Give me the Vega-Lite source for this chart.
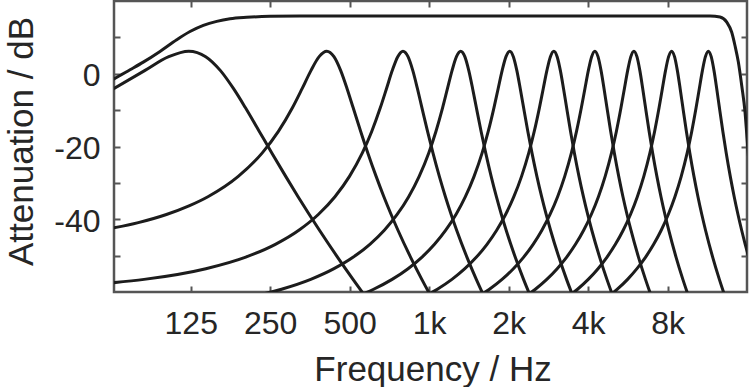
{
"$schema": "https://vega.github.io/schema/vega-lite/v6.json",
"width": 633, "height": 291,
"autosize": {"type": "none"},
"padding": {"left": 114, "top": 1, "right": 2, "bottom": 95},
"background": "white",
"config": {
 "view": {"stroke": "#555555", "strokeWidth": 2.5},
 "axis": {"domain": false, "grid": false, "tickColor": "#555555", "tickWidth": 2, "tickSize": -6,
  "labelFont": "Liberation Sans", "labelFontSize": 32, "labelColor": "#262626",
  "titleFont": "Liberation Sans", "titleFontSize": 35, "titleFontWeight": "normal", "titleColor": "#262626",
  "labelFlush": false, "labelOverlap": false}
},
"datasets": {
 "z": [{"f": 1000, "db": 0}],
 "c": [
{"s":"A","f":62,"db":-1.9},{"s":"A","f":64,"db":-1.4},{"s":"A","f":73.6,"db":1.1},{"s":"A","f":82.6,"db":3.2},{"s":"A","f":95.6,"db":6.15},{"s":"A","f":110.6,"db":9.35},{"s":"A","f":124.2,"db":11.6},{"s":"A","f":139.5,"db":13.3},{"s":"A","f":156.8,"db":14.4},{"s":"A","f":176.1,"db":15.1},{"s":"A","f":203.7,"db":15.5},{"s":"A","f":249.5,"db":15.8},{"s":"A","f":324,"db":15.9},{"s":"A","f":1000,"db":15.9},{"s":"A","f":9735,"db":15.9},{"s":"A","f":11590,"db":15.9},{"s":"A","f":12647,"db":15.6},{"s":"A","f":13408,"db":14.2},{"s":"A","f":14004,"db":11.4},{"s":"A","f":14413,"db":7.7},{"s":"A","f":14837,"db":3.2},{"s":"A","f":15283,"db":-3.3},{"s":"A","f":15730,"db":-10.6},{"s":"A","f":16006,"db":-17.7},{"s":"A","f":16300,"db":-25},
{"s":"B","f":62,"db":-4.63},{"s":"B","f":83.6,"db":0.86},{"s":"B","f":103.2,"db":4.7},{"s":"B","f":122.8,"db":6.2},{"s":"B","f":142.4,"db":4.7},{"s":"B","f":162,"db":0.86},{"s":"B","f":181.6,"db":-4.11},{"s":"B","f":201.2,"db":-9.3},{"s":"B","f":227.3,"db":-15.86},{"s":"B","f":253.5,"db":-21.76},{"s":"B","f":286.2,"db":-28.21},{"s":"B","f":318.8,"db":-33.8},{"s":"B","f":351.5,"db":-38.69},{"s":"B","f":384.2,"db":-43.02},{"s":"B","f":449.5,"db":-50.4},{"s":"B","f":514.8,"db":-56.53},{"s":"B","f":580.2,"db":-61.76},
{"s":"C","f":62,"db":-42.55},{"s":"C","f":79.1,"db":-40.92},{"s":"C","f":101.1,"db":-38.69},{"s":"C","f":123.1,"db":-36.32},{"s":"C","f":145.2,"db":-33.8},{"s":"C","f":189.2,"db":-28.21},{"s":"C","f":233.3,"db":-21.76},{"s":"C","f":268.5,"db":-15.86},{"s":"C","f":303.8,"db":-9.3},{"s":"C","f":330.2,"db":-4.11},{"s":"C","f":356.6,"db":0.86},{"s":"C","f":383.1,"db":4.7},{"s":"C","f":409.5,"db":6.2},{"s":"C","f":435.9,"db":4.7},{"s":"C","f":462.4,"db":0.86},{"s":"C","f":488.8,"db":-4.11},{"s":"C","f":515.2,"db":-9.3},{"s":"C","f":550.5,"db":-15.86},{"s":"C","f":585.7,"db":-21.76},{"s":"C","f":629.8,"db":-28.21},{"s":"C","f":673.8,"db":-33.8},{"s":"C","f":717.9,"db":-38.69},{"s":"C","f":761.9,"db":-43.02},{"s":"C","f":850.1,"db":-50.4},{"s":"C","f":938.2,"db":-56.53},{"s":"C","f":1026.3,"db":-61.76},
{"s":"D","f":62,"db":-57.52},{"s":"D","f":83.2,"db":-56.53},{"s":"D","f":142.6,"db":-53.59},{"s":"D","f":202,"db":-50.4},{"s":"D","f":261.5,"db":-46.89},{"s":"D","f":320.9,"db":-43.02},{"s":"D","f":380.3,"db":-38.69},{"s":"D","f":439.7,"db":-33.8},{"s":"D","f":499.1,"db":-28.21},{"s":"D","f":558.5,"db":-21.76},{"s":"D","f":606,"db":-15.86},{"s":"D","f":653.5,"db":-9.3},{"s":"D","f":689.2,"db":-4.11},{"s":"D","f":724.8,"db":0.86},{"s":"D","f":760.5,"db":4.7},{"s":"D","f":796.1,"db":6.2},{"s":"D","f":831.7,"db":4.7},{"s":"D","f":867.4,"db":0.86},{"s":"D","f":903,"db":-4.11},{"s":"D","f":938.7,"db":-9.3},{"s":"D","f":986.2,"db":-15.86},{"s":"D","f":1033.7,"db":-21.76},{"s":"D","f":1093.1,"db":-28.21},{"s":"D","f":1152.5,"db":-33.8},{"s":"D","f":1211.9,"db":-38.69},{"s":"D","f":1271.3,"db":-43.02},{"s":"D","f":1390.2,"db":-50.4},{"s":"D","f":1509,"db":-56.53},{"s":"D","f":1627.8,"db":-61.76},
{"s":"E","f":195.8,"db":-61.76},{"s":"E","f":275.9,"db":-59.24},{"s":"E","f":356,"db":-56.53},{"s":"E","f":436.1,"db":-53.59},{"s":"E","f":516.2,"db":-50.4},{"s":"E","f":596.3,"db":-46.89},{"s":"E","f":676.4,"db":-43.02},{"s":"E","f":756.5,"db":-38.69},{"s":"E","f":836.6,"db":-33.8},{"s":"E","f":916.7,"db":-28.21},{"s":"E","f":996.8,"db":-21.76},{"s":"E","f":1060.9,"db":-15.86},{"s":"E","f":1125,"db":-9.3},{"s":"E","f":1173,"db":-4.11},{"s":"E","f":1221.1,"db":0.86},{"s":"E","f":1269.1,"db":4.7},{"s":"E","f":1317.2,"db":6.2},{"s":"E","f":1365.3,"db":4.7},{"s":"E","f":1413.3,"db":0.86},{"s":"E","f":1461.4,"db":-4.11},{"s":"E","f":1509.4,"db":-9.3},{"s":"E","f":1573.5,"db":-15.86},{"s":"E","f":1637.6,"db":-21.76},{"s":"E","f":1717.7,"db":-28.21},{"s":"E","f":1797.8,"db":-33.8},{"s":"E","f":1877.9,"db":-38.69},{"s":"E","f":1958,"db":-43.02},{"s":"E","f":2118.2,"db":-50.4},{"s":"E","f":2278.4,"db":-56.53},{"s":"E","f":2438.6,"db":-61.76},
{"s":"F","f":507.9,"db":-61.76},{"s":"F","f":615.9,"db":-59.24},{"s":"F","f":723.9,"db":-56.53},{"s":"F","f":831.9,"db":-53.59},{"s":"F","f":939.8,"db":-50.4},{"s":"F","f":1047.8,"db":-46.89},{"s":"F","f":1155.8,"db":-43.02},{"s":"F","f":1263.8,"db":-38.69},{"s":"F","f":1371.8,"db":-33.8},{"s":"F","f":1479.8,"db":-28.21},{"s":"F","f":1587.8,"db":-21.76},{"s":"F","f":1674.2,"db":-15.86},{"s":"F","f":1760.6,"db":-9.3},{"s":"F","f":1825.4,"db":-4.11},{"s":"F","f":1890.2,"db":0.86},{"s":"F","f":1955,"db":4.7},{"s":"F","f":2019.8,"db":6.2},{"s":"F","f":2084.6,"db":4.7},{"s":"F","f":2149.4,"db":0.86},{"s":"F","f":2214.2,"db":-4.11},{"s":"F","f":2279,"db":-9.3},{"s":"F","f":2365.4,"db":-15.86},{"s":"F","f":2451.8,"db":-21.76},{"s":"F","f":2559.8,"db":-28.21},{"s":"F","f":2667.8,"db":-33.8},{"s":"F","f":2775.8,"db":-38.69},{"s":"F","f":2883.8,"db":-43.02},{"s":"F","f":3099.8,"db":-50.4},{"s":"F","f":3315.7,"db":-56.53},{"s":"F","f":3531.7,"db":-61.76},
{"s":"G","f":928.6,"db":-61.76},{"s":"G","f":1074.2,"db":-59.24},{"s":"G","f":1219.8,"db":-56.53},{"s":"G","f":1365.4,"db":-53.59},{"s":"G","f":1511,"db":-50.4},{"s":"G","f":1656.7,"db":-46.89},{"s":"G","f":1802.3,"db":-43.02},{"s":"G","f":1947.9,"db":-38.69},{"s":"G","f":2093.5,"db":-33.8},{"s":"G","f":2239.1,"db":-28.21},{"s":"G","f":2384.7,"db":-21.76},{"s":"G","f":2501.2,"db":-15.86},{"s":"G","f":2617.7,"db":-9.3},{"s":"G","f":2705.1,"db":-4.11},{"s":"G","f":2792.5,"db":0.86},{"s":"G","f":2879.8,"db":4.7},{"s":"G","f":2967.2,"db":6.2},{"s":"G","f":3054.6,"db":4.7},{"s":"G","f":3141.9,"db":0.86},{"s":"G","f":3229.3,"db":-4.11},{"s":"G","f":3316.7,"db":-9.3},{"s":"G","f":3433.2,"db":-15.86},{"s":"G","f":3549.7,"db":-21.76},{"s":"G","f":3695.3,"db":-28.21},{"s":"G","f":3840.9,"db":-33.8},{"s":"G","f":3986.5,"db":-38.69},{"s":"G","f":4132.1,"db":-43.02},{"s":"G","f":4423.4,"db":-50.4},{"s":"G","f":4714.6,"db":-56.53},{"s":"G","f":5005.8,"db":-61.76},
{"s":"H","f":1495.8,"db":-61.76},{"s":"H","f":1692.2,"db":-59.24},{"s":"H","f":1888.5,"db":-56.53},{"s":"H","f":2084.9,"db":-53.59},{"s":"H","f":2281.2,"db":-50.4},{"s":"H","f":2477.5,"db":-46.89},{"s":"H","f":2673.9,"db":-43.02},{"s":"H","f":2870.2,"db":-38.69},{"s":"H","f":3066.6,"db":-33.8},{"s":"H","f":3262.9,"db":-28.21},{"s":"H","f":3459.2,"db":-21.76},{"s":"H","f":3616.3,"db":-15.86},{"s":"H","f":3773.4,"db":-9.3},{"s":"H","f":3891.2,"db":-4.11},{"s":"H","f":4009,"db":0.86},{"s":"H","f":4126.8,"db":4.7},{"s":"H","f":4244.6,"db":6.2},{"s":"H","f":4362.4,"db":4.7},{"s":"H","f":4480.2,"db":0.86},{"s":"H","f":4598,"db":-4.11},{"s":"H","f":4715.8,"db":-9.3},{"s":"H","f":4872.9,"db":-15.86},{"s":"H","f":5030,"db":-21.76},{"s":"H","f":5226.3,"db":-28.21},{"s":"H","f":5422.6,"db":-33.8},{"s":"H","f":5619,"db":-38.69},{"s":"H","f":5815.3,"db":-43.02},{"s":"H","f":6208,"db":-50.4},{"s":"H","f":6600.7,"db":-56.53},{"s":"H","f":6993.4,"db":-61.76},
{"s":"I","f":2260.8,"db":-61.76},{"s":"I","f":2525.5,"db":-59.24},{"s":"I","f":2790.2,"db":-56.53},{"s":"I","f":3055,"db":-53.59},{"s":"I","f":3319.7,"db":-50.4},{"s":"I","f":3584.4,"db":-46.89},{"s":"I","f":3849.2,"db":-43.02},{"s":"I","f":4113.9,"db":-38.69},{"s":"I","f":4378.6,"db":-33.8},{"s":"I","f":4643.3,"db":-28.21},{"s":"I","f":4908.1,"db":-21.76},{"s":"I","f":5119.9,"db":-15.86},{"s":"I","f":5331.6,"db":-9.3},{"s":"I","f":5490.5,"db":-4.11},{"s":"I","f":5649.3,"db":0.86},{"s":"I","f":5808.2,"db":4.7},{"s":"I","f":5967,"db":6.2},{"s":"I","f":6125.8,"db":4.7},{"s":"I","f":6284.7,"db":0.86},{"s":"I","f":6443.5,"db":-4.11},{"s":"I","f":6602.4,"db":-9.3},{"s":"I","f":6814.1,"db":-15.86},{"s":"I","f":7025.9,"db":-21.76},{"s":"I","f":7290.7,"db":-28.21},{"s":"I","f":7555.4,"db":-33.8},{"s":"I","f":7820.1,"db":-38.69},{"s":"I","f":8084.8,"db":-43.02},{"s":"I","f":8614.3,"db":-50.4},{"s":"I","f":9143.8,"db":-56.53},{"s":"I","f":9673.2,"db":-61.76},
{"s":"J","f":3292,"db":-61.76},{"s":"J","f":3648.9,"db":-59.24},{"s":"J","f":4005.8,"db":-56.53},{"s":"J","f":4362.8,"db":-53.59},{"s":"J","f":4719.7,"db":-50.4},{"s":"J","f":5076.6,"db":-46.89},{"s":"J","f":5433.6,"db":-43.02},{"s":"J","f":5790.5,"db":-38.69},{"s":"J","f":6147.4,"db":-33.8},{"s":"J","f":6504.3,"db":-28.21},{"s":"J","f":6861.3,"db":-21.76},{"s":"J","f":7146.8,"db":-15.86},{"s":"J","f":7432.4,"db":-9.3},{"s":"J","f":7646.5,"db":-4.11},{"s":"J","f":7860.7,"db":0.86},{"s":"J","f":8074.8,"db":4.7},{"s":"J","f":8289,"db":6.2},{"s":"J","f":8503.2,"db":4.7},{"s":"J","f":8717.3,"db":0.86},{"s":"J","f":8931.5,"db":-4.11},{"s":"J","f":9145.6,"db":-9.3},{"s":"J","f":9431.2,"db":-15.86},{"s":"J","f":9716.7,"db":-21.76},{"s":"J","f":10073.7,"db":-28.21},{"s":"J","f":10430.6,"db":-33.8},{"s":"J","f":10787.5,"db":-38.69},{"s":"J","f":11144.4,"db":-43.02},{"s":"J","f":11858.3,"db":-50.4},{"s":"J","f":12572.2,"db":-56.53},{"s":"J","f":13286,"db":-61.76},
{"s":"K","f":4682.9,"db":-61.76},{"s":"K","f":5164.2,"db":-59.24},{"s":"K","f":5645.5,"db":-56.53},{"s":"K","f":6126.8,"db":-53.59},{"s":"K","f":6608,"db":-50.4},{"s":"K","f":7089.3,"db":-46.89},{"s":"K","f":7570.6,"db":-43.02},{"s":"K","f":8051.9,"db":-38.69},{"s":"K","f":8533.2,"db":-33.8},{"s":"K","f":9014.5,"db":-28.21},{"s":"K","f":9495.8,"db":-21.76},{"s":"K","f":9880.9,"db":-15.86},{"s":"K","f":10265.9,"db":-9.3},{"s":"K","f":10554.7,"db":-4.11},{"s":"K","f":10843.4,"db":0.86},{"s":"K","f":11132.2,"db":4.7},{"s":"K","f":11421,"db":6.2},{"s":"K","f":11709.8,"db":4.7},{"s":"K","f":11998.6,"db":0.86},{"s":"K","f":12287.3,"db":-4.11},{"s":"K","f":12576.1,"db":-9.3},{"s":"K","f":12961.1,"db":-15.86},{"s":"K","f":13346.2,"db":-21.76},{"s":"K","f":13827.5,"db":-28.21},{"s":"K","f":14308.8,"db":-33.8},{"s":"K","f":14790.1,"db":-38.69},{"s":"K","f":15271.4,"db":-43.02},{"s":"K","f":15752.7,"db":-46.89},{"s":"K","f":16234,"db":-50.4}
 ]
},
"resolve": {"axis": {"x": "independent", "y": "independent"}},
"layer": [
 {
  "data": {"name": "c"},
  "mark": {"type": "line", "interpolate": "monotone", "clip": true, "color": "#1c1c1c", "strokeWidth": 3},
  "encoding": {
   "x": {"field": "f", "type": "quantitative",
    "scale": {"type": "log", "domain": [64, 16000], "nice": false},
    "axis": {"orient": "bottom", "values": [125, 250, 500, 1000, 2000, 4000, 8000],
     "labelExpr": "datum.value >= 1000 ? (datum.value / 1000) + 'k' : '' + datum.value",
     "labelPadding": 22, "labelBaseline": "top",
     "title": "Frequency / Hz", "titleX": 318.5, "titleY": 88.5, "titleBaseline": "alphabetic", "titleAlign": "center", "titleAnchor": null}},
   "y": {"field": "db", "type": "quantitative",
    "scale": {"domain": [-60, 20], "nice": false, "zero": false},
    "axis": {"orient": "left", "values": [-50, -40, -30, -20, -10, 0, 10],
     "labelExpr": "datum.value % 20 == 0 ? '' + datum.value : ''",
     "labelPadding": 20, "labelOffset": 2,
     "title": "Attenuation / dB", "titleX": -82, "titleY": 140, "titleAngle": -90, "titleBaseline": "alphabetic", "titleAlign": "center", "titleAnchor": null}},
   "detail": {"field": "s"}
  }
 },
 {
  "data": {"name": "z"},
  "mark": {"type": "point", "opacity": 0},
  "encoding": {
   "x": {"field": "f", "type": "quantitative",
    "scale": {"type": "log", "domain": [64, 16000], "nice": false},
    "axis": {"orient": "top", "values": [125, 250, 500, 1000, 2000, 4000, 8000], "labels": false, "title": null}},
   "y": {"field": "db", "type": "quantitative",
    "scale": {"domain": [-60, 20], "nice": false, "zero": false},
    "axis": {"orient": "right", "values": [-50, -40, -30, -20, -10, 0, 10], "labels": false, "title": null}}
  }
 }
]
}
